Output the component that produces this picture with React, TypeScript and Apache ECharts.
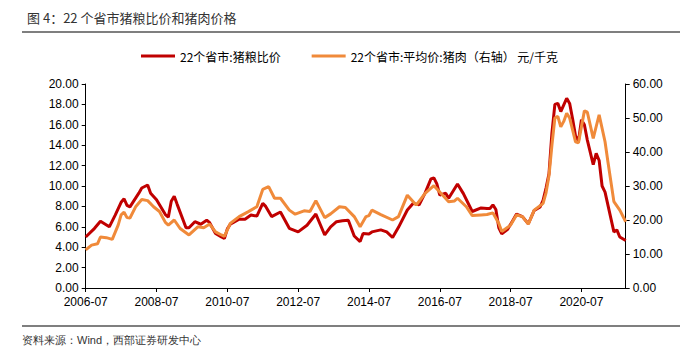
import React, { useEffect, useRef } from "react";
import * as echarts from "echarts";

const titleText = "图 4：22 个省市猪粮比价和猪肉价格";
const sourceText = "资料来源：Wind，西部证券研发中心";
const seriesNames = ["22个省市:猪粮比价", "22个省市:平均价:猪肉（右轴） 元/千克"];
const xTickLabels = ["2006-07", "2008-07", "2010-07", "2012-07", "2014-07", "2016-07", "2018-07", "2020-07"];

const redDates = [
  "2006-07", "2006-10", "2006-12", "2007-03", "2007-05", "2007-07", "2007-08", "2007-09", "2007-10",
  "2008-01", "2008-02", "2008-04", "2008-05", "2008-07", "2008-10", "2008-11", "2008-12", "2009-01",
  "2009-02", "2009-05", "2009-06", "2009-08", "2009-10", "2009-12", "2010-01", "2010-03", "2010-05",
  "2010-06", "2010-07", "2010-08", "2010-11", "2011-01", "2011-03", "2011-05", "2011-07", "2011-08",
  "2011-10", "2012-01", "2012-04", "2012-07", "2012-10", "2013-01", "2013-04", "2013-06", "2013-08",
  "2013-10", "2013-12", "2014-02", "2014-04", "2014-05", "2014-07", "2014-08", "2014-11", "2015-01",
  "2015-03", "2015-05", "2015-08", "2015-10", "2015-12", "2016-02", "2016-04", "2016-05", "2016-06",
  "2016-07", "2016-09", "2016-10", "2017-01", "2017-03", "2017-06", "2017-09", "2017-11", "2017-12",
  "2018-01", "2018-02", "2018-03", "2018-04", "2018-06", "2018-08", "2018-09", "2018-11", "2019-01",
  "2019-03", "2019-05", "2019-06", "2019-07", "2019-08", "2019-09", "2019-10", "2019-11", "2019-12",
  "2020-02", "2020-03", "2020-04", "2020-05", "2020-06", "2020-07", "2020-08", "2020-09", "2020-11",
  "2020-12", "2021-01", "2021-02", "2021-03", "2021-06", "2021-07", "2021-08", "2021-10",
];
const redValues = [
  5.0, 5.85, 6.55, 6.0, 7.15, 8.4, 8.75, 8.1, 7.95,
  9.3, 9.8, 10.1, 9.3, 8.65, 7.2, 6.95, 8.5, 9.0,
  8.2, 5.9, 5.9, 6.5, 6.25, 6.65, 6.4, 5.35, 5.0,
  4.85, 5.8, 6.25, 6.75, 6.75, 7.15, 7.05, 8.3, 8.0,
  7.0, 7.45, 5.85, 5.5, 6.15, 7.25, 5.2, 6.0, 6.5,
  6.6, 6.65, 5.1, 4.55, 5.35, 5.3, 5.5, 5.7, 5.5,
  4.95, 5.95, 7.65, 8.3, 8.15, 9.3, 10.7, 10.8, 10.2,
  9.1, 9.3, 8.8, 10.2, 9.25, 7.5, 7.85, 7.8, 7.8,
  8.15, 7.7, 5.9, 5.3, 5.75, 6.75, 7.25, 7.0, 6.3,
  7.6, 7.95, 8.6, 9.8, 11.2, 15.2, 18.0, 18.1, 17.3,
  18.6, 18.1, 16.6, 14.9, 14.4, 16.5, 16.0, 14.5, 12.1,
  13.2, 12.5, 10.0, 9.4, 5.5, 5.7, 5.0, 4.65,
];

const orangeDates = [
  "2006-07", "2006-09", "2006-11", "2006-12", "2007-02", "2007-04", "2007-06", "2007-07", "2007-08",
  "2007-09", "2007-10", "2007-12", "2008-02", "2008-04", "2008-06", "2008-08", "2008-10", "2008-11",
  "2009-01", "2009-03", "2009-06", "2009-09", "2009-11", "2010-01", "2010-03", "2010-05", "2010-06",
  "2010-08", "2010-11", "2011-02", "2011-05", "2011-07", "2011-09", "2011-11", "2012-01", "2012-04",
  "2012-06", "2012-09", "2012-11", "2013-01", "2013-04", "2013-06", "2013-09", "2013-11", "2014-02",
  "2014-04", "2014-06", "2014-07", "2014-08", "2014-11", "2015-03", "2015-05", "2015-08", "2015-11",
  "2016-02", "2016-05", "2016-08", "2016-10", "2016-12", "2017-01", "2017-04", "2017-06", "2017-09",
  "2017-11", "2018-01", "2018-03", "2018-04", "2018-07", "2018-09", "2018-11", "2019-01", "2019-03",
  "2019-06", "2019-07", "2019-08", "2019-09", "2019-10", "2019-11", "2019-12", "2020-01", "2020-02",
  "2020-03", "2020-04", "2020-05", "2020-06", "2020-08", "2020-09", "2020-11", "2020-12", "2021-01",
  "2021-03", "2021-04", "2021-06", "2021-08", "2021-10",
];
const orangeValues = [
  11.2, 12.6, 13.0, 15.0, 14.8, 14.3, 18.5, 21.5, 22.3,
  20.7, 20.6, 24.0, 26.0, 25.7, 23.9, 22.5, 19.3, 18.5,
  20.0, 17.5, 15.6, 18.0, 17.7, 18.8, 16.5, 15.6, 15.2,
  19.0, 21.0, 22.4, 23.9, 29.0, 29.8, 26.4, 26.4, 22.9,
  21.7, 22.7, 22.5, 25.7, 20.7, 21.8, 23.9, 23.7, 21.0,
  18.0, 21.0, 21.3, 22.9, 21.6, 20.0, 21.0, 27.3, 24.4,
  27.8, 30.1, 27.3, 25.4, 25.6, 26.4, 23.9, 21.3, 21.5,
  21.6, 22.1, 19.0, 16.6, 18.5, 21.5, 21.0, 18.8, 22.9,
  24.9, 28.0, 33.0, 42.0, 50.0, 50.5, 47.4, 49.0, 51.4,
  50.0, 46.5, 43.0, 42.7, 52.1, 51.7, 44.0, 47.5, 50.9,
  43.0, 37.0, 25.4, 22.9, 19.5,
];

const startYear = 2006;
const startMonth = 7;
const endDate = "2021-10";

function monthIndex(s: string): number {
  const [y, m] = s.split("-").map(Number);
  return (y - startYear) * 12 + (m - startMonth);
}

export default function App() {
  const ref = useRef<HTMLDivElement>(null);

  useEffect(() => {
    if (!ref.current) return;
    const chart = echarts.init(ref.current, undefined, { renderer: "svg" });
    const tickValues = xTickLabels.map(monthIndex);
    const cjk = "'Noto Sans CJK SC', 'Liberation Sans', sans-serif";
    const num = "'Liberation Sans', Arial, sans-serif";

    chart.setOption({
      animation: false,
      backgroundColor: "#ffffff",
      textStyle: { fontFamily: num },
      title: {
        text: titleText,
        left: 22,
        top: 6,
        textStyle: { fontSize: 13, fontWeight: "normal", color: "#333", fontFamily: cjk },
      },
      legend: {
        top: 45,
        left: 136,
        itemWidth: 34,
        itemHeight: 3,
        itemGap: 31,
        icon: "rect",
        textStyle: { fontSize: 12, color: "#000", fontFamily: cjk },
        data: seriesNames,
      },
      grid: { left: 85.7, right: 74.3, top: 84, bottom: 65, containLabel: false },
      xAxis: {
        type: "value",
        min: 0,
        max: monthIndex(endDate),
        interval: 24,
        splitLine: { show: false },
        axisLine: { lineStyle: { color: "#000", width: 1 } },
        axisTick: { show: true, length: 4, customValues: tickValues, lineStyle: { color: "#000" } },
        axisLabel: {
          customValues: tickValues,
          color: "#000",
          fontSize: 12,
          margin: 8,
          fontFamily: num,
          formatter: (v: number) => {
            const i = tickValues.indexOf(v);
            return i >= 0 ? xTickLabels[i] : "";
          },
        },
      },
      yAxis: [
        {
          type: "value",
          min: 0,
          max: 20,
          interval: 2,
          splitLine: { show: false },
          axisLine: { show: true, lineStyle: { color: "#000", width: 1 } },
          axisTick: { show: true, length: 4, lineStyle: { color: "#000" } },
          axisLabel: { color: "#000", fontSize: 12, margin: 7, fontFamily: num, formatter: (v: number) => v.toFixed(2) },
        },
        {
          type: "value",
          min: 0,
          max: 60,
          interval: 10,
          splitLine: { show: false },
          axisLine: { show: true, lineStyle: { color: "#000", width: 1 } },
          axisTick: { show: true, length: 4, lineStyle: { color: "#000" } },
          axisLabel: { color: "#000", fontSize: 12, margin: 7, fontFamily: num, formatter: (v: number) => v.toFixed(2) },
        },
      ],
      series: [
        {
          name: seriesNames[0],
          type: "line",
          yAxisIndex: 0,
          symbol: "none",
          color: "#C00000",
          lineStyle: { width: 3, color: "#C00000" },
          data: redDates.map((d, i) => [monthIndex(d), redValues[i]]),
        },
        {
          name: seriesNames[1],
          type: "line",
          yAxisIndex: 1,
          symbol: "none",
          color: "#F08A3A",
          lineStyle: { width: 3, color: "#F08A3A" },
          data: orangeDates.map((d, i) => [monthIndex(d), orangeValues[i]]),
        },
      ],
      graphic: [
        { type: "line", shape: { x1: 22, y1: 32, x2: 680, y2: 32 }, style: { stroke: "#555", lineWidth: 1.5 } },
        { type: "line", shape: { x1: 22, y1: 326, x2: 680, y2: 326 }, style: { stroke: "#555", lineWidth: 1.5 } },
        {
          type: "text",
          left: 22,
          top: 334,
          style: { text: sourceText, fontSize: 11, fill: "#333", font: "11px 'Noto Sans CJK SC', sans-serif" },
        },
      ],
    });

    return () => chart.dispose();
  }, []);

  return <div ref={ref} style={{ position: "fixed", left: 0, top: 0, width: 700, height: 353 }} />;
}
